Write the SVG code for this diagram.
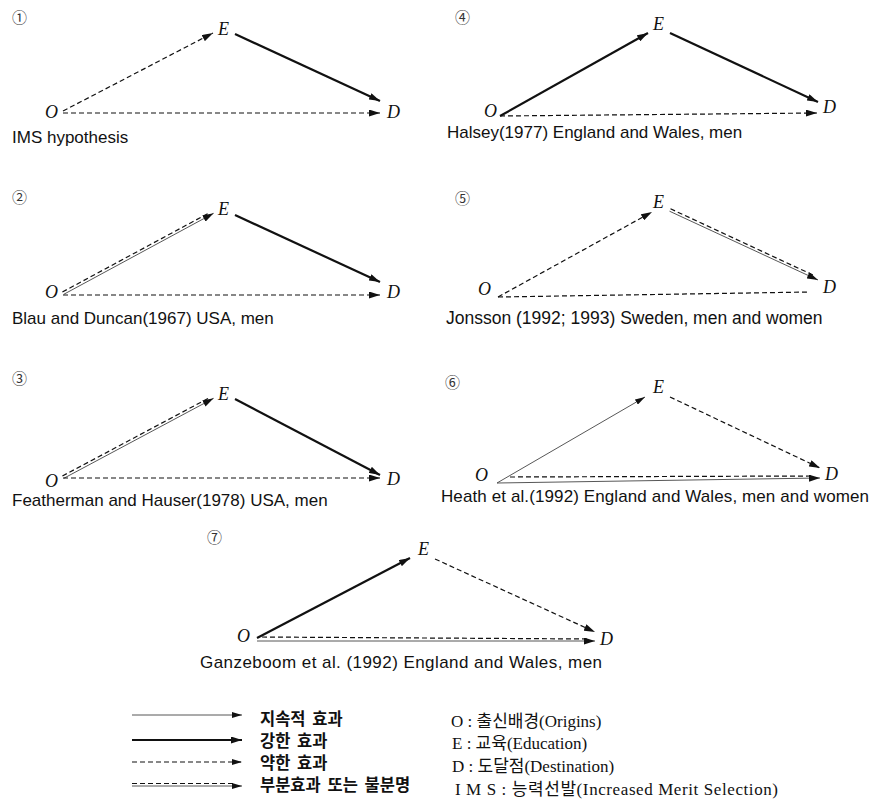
<svg xmlns="http://www.w3.org/2000/svg" width="875" height="801" viewBox="0 0 875 801">
<style>
.bg{fill:#fff}
.v{font-family:"Liberation Serif","DejaVu Serif",serif;font-style:italic;font-size:18px;fill:#111}
.num{font-family:"Noto Sans CJK KR","DejaVu Sans",sans-serif;font-size:15px;fill:#333}
.cap{font-family:"Liberation Sans",Arial,sans-serif;font-size:17px;fill:#111}
.lg{font-family:"Noto Sans CJK KR",sans-serif;font-weight:bold;font-size:16.5px;word-spacing:3px;fill:#111}
.lr{font-family:"Liberation Serif","Noto Sans CJK KR",serif;font-size:17px;fill:#111}
.thick{stroke:#111;stroke-width:2.2;fill:none}
.thin{stroke:#444;stroke-width:0.9;fill:none}
.dash{stroke:#111;stroke-width:1.2;stroke-dasharray:5 3;fill:none}
</style>
<defs>
<marker id="ah" markerUnits="userSpaceOnUse" markerWidth="11" markerHeight="7" refX="11" refY="3.5" orient="auto">
<path d="M0,0 L11,3.5 L0,7 z" fill="#111"/>
</marker>
<marker id="as" markerUnits="userSpaceOnUse" markerWidth="10" markerHeight="6" refX="10" refY="3" orient="auto">
<path d="M0,0 L10,3 L0,6 z" fill="#111"/>
</marker>
</defs>
<rect class="bg" width="875" height="801"/>

<g id="panel1">
<text class="num" x="12" y="23">①</text>
<text class="v" x="218" y="35">E</text>
<text class="v" x="45" y="118">O</text>
<text class="v" x="387" y="118">D</text>
<text class="cap" x="12" y="143">IMS hypothesis</text>
</g>
<g id="panel2">
<text class="num" x="12" y="203">②</text>
<text class="v" x="218" y="215">E</text>
<text class="v" x="45" y="298">O</text>
<text class="v" x="387" y="298">D</text>
<text class="cap" x="12" y="324">Blau and Duncan(1967) USA, men</text>
</g>
<g id="panel3">
<text class="num" x="12" y="384">③</text>
<text class="v" x="218" y="400">E</text>
<text class="v" x="45" y="487">O</text>
<text class="v" x="387" y="485">D</text>
<text class="cap" x="12" y="506">Featherman and Hauser(1978) USA, men</text>
</g>
<g id="panel4">
<text class="num" x="455" y="23">④</text>
<text class="v" x="653" y="30">E</text>
<text class="v" x="484" y="117">O</text>
<text class="v" x="823" y="113">D</text>
<text class="cap" x="447" y="138">Halsey(1977) England and Wales, men</text>
</g>
<g id="panel5">
<text class="num" x="455" y="204">⑤</text>
<text class="v" x="653" y="208">E</text>
<text class="v" x="478" y="295">O</text>
<text class="v" x="823" y="293">D</text>
<text class="cap" x="446" y="324" style="font-size:17.5px">Jonsson (1992; 1993) Sweden, men and women</text>
</g>
<g id="panel6">
<text class="num" x="445" y="388">⑥</text>
<text class="v" x="475" y="481">O</text>
<text class="v" x="653" y="393">E</text>
<text class="v" x="825" y="480">D</text>
<text class="cap" x="441" y="502" textLength="428" lengthAdjust="spacing">Heath et al.(1992) England and Wales, men and women</text>
</g>
<g id="panel7">
<text class="num" x="207" y="543">⑦</text>
<text class="v" x="418" y="555">E</text>
<text class="v" x="237" y="642">O</text>
<text class="v" x="600" y="645">D</text>
<text class="cap" x="200" y="668" textLength="402" lengthAdjust="spacing">Ganzeboom et al. (1992) England and Wales, men</text>
</g>

<g id="connectors">
<!-- panel 1 -->
<line class="dash" x1="63" y1="111" x2="213" y2="33" marker-end="url(#ah)"/>
<line class="thick" x1="235" y1="34" x2="380" y2="101" marker-end="url(#ah)"/>
<line class="dash" x1="63" y1="113" x2="380" y2="113" marker-end="url(#ah)"/>
<!-- panel 2 -->
<line class="thin" x1="63.8" y1="294.3" x2="213.6" y2="213.3" marker-end="url(#ah)"/>
<line class="dash" x1="62.4" y1="292" x2="208" y2="213.5"/>
<line class="thick" x1="235" y1="215" x2="380" y2="282" marker-end="url(#ah)"/>
<line class="dash" x1="63" y1="295" x2="380" y2="295" marker-end="url(#ah)"/>
<!-- panel 3 -->
<line class="thin" x1="63.8" y1="478.3" x2="213.6" y2="398.3" marker-end="url(#ah)"/>
<line class="dash" x1="62.4" y1="476" x2="208" y2="398.5"/>
<line class="thick" x1="235" y1="399" x2="380" y2="475" marker-end="url(#ah)"/>
<line class="dash" x1="63" y1="478" x2="380" y2="478" marker-end="url(#ah)"/>
<!-- panel 4 -->
<line class="thick" x1="500" y1="116" x2="648" y2="33" marker-end="url(#ah)"/>
<line class="thick" x1="670" y1="33" x2="818" y2="102" marker-end="url(#ah)"/>
<line class="dash" x1="500" y1="116" x2="817" y2="113" marker-end="url(#ah)"/>
<!-- panel 5 -->
<line class="dash" x1="498" y1="297" x2="652" y2="212" marker-end="url(#ah)"/>
<line class="thin" x1="669.5" y1="211.2" x2="818" y2="280" marker-end="url(#ah)"/>
<line class="dash" x1="670.5" y1="208.8" x2="813" y2="275"/>
<line class="dash" x1="498" y1="297" x2="810" y2="292"/>
<!-- panel 6 -->
<line class="thin" x1="497" y1="483" x2="645" y2="397" marker-end="url(#as)"/>
<line class="dash" x1="670" y1="397" x2="820" y2="468" marker-end="url(#ah)"/>
<line class="thin" x1="497" y1="483" x2="820" y2="478" marker-end="url(#ah)"/>
<line class="dash" x1="510" y1="477" x2="814" y2="476"/>
<!-- panel 7 -->
<line class="thick" x1="257" y1="638" x2="410" y2="558" marker-end="url(#ah)"/>
<line class="dash" x1="435" y1="559" x2="595" y2="632" marker-end="url(#ah)"/>
<line class="thin" x1="257" y1="641" x2="595" y2="641" marker-end="url(#ah)"/>
<line class="dash" x1="262" y1="637" x2="589" y2="639"/>
</g>

<g id="legend">
<line class="thin" x1="132" y1="715" x2="242" y2="715" marker-end="url(#as)"/>
<line class="thick" x1="132" y1="740" x2="242" y2="740" marker-end="url(#ah)"/>
<line class="dash" x1="132" y1="762" x2="242" y2="762" marker-end="url(#as)"/>
<line class="dash" x1="132" y1="783.5" x2="236" y2="783.5"/>
<line class="thin" x1="132" y1="786" x2="242" y2="786" marker-end="url(#as)"/>
<text class="lg" x="260" y="725">지속적 효과</text>
<text class="lg" x="260" y="747">강한 효과</text>
<text class="lg" x="260" y="769">약한 효과</text>
<text class="lg" x="260" y="791">부분효과 또는 불분명</text>
<text class="lr" x="451" y="727">O : 출신배경(Origins)</text>
<text class="lr" x="452" y="749">E : 교육(Education)</text>
<text class="lr" x="452" y="772">D : 도달점(Destination)</text>
<text class="lr" x="455" y="795" textLength="323" lengthAdjust="spacing">I M S : 능력선발(Increased Merit Selection)</text>
</g>
</svg>
